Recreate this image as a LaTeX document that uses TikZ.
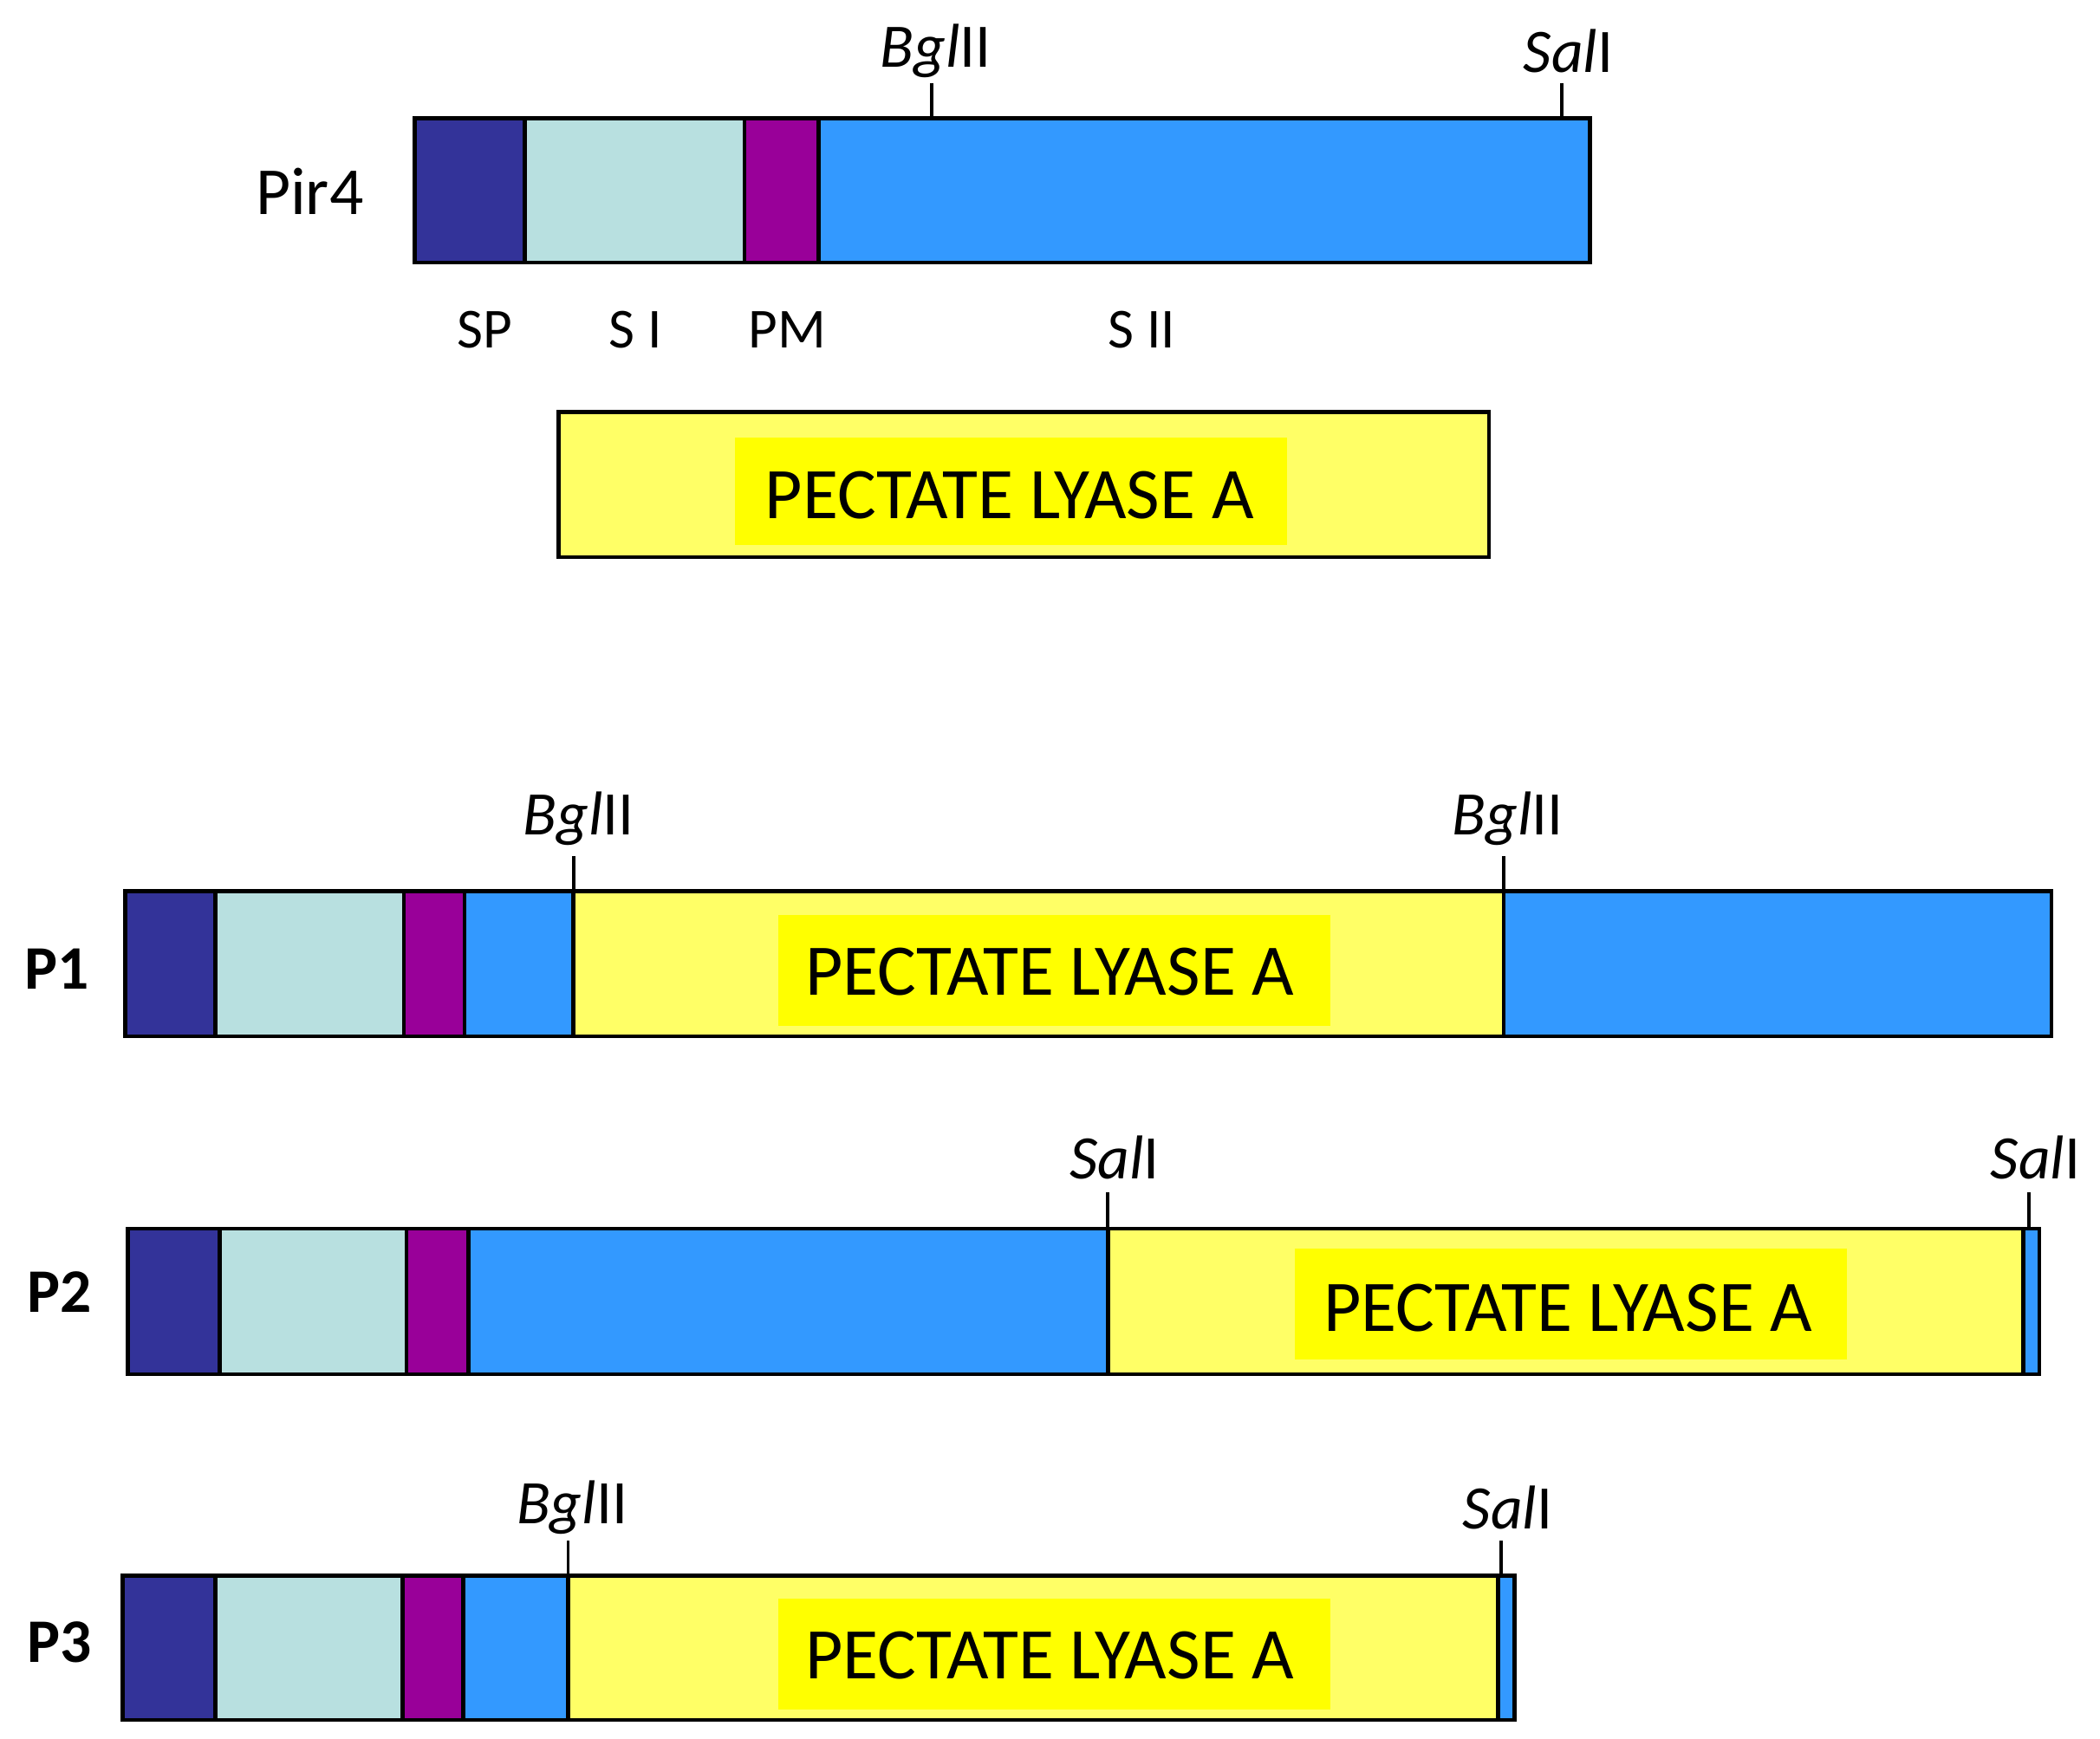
\documentclass[tikz,border=0pt]{standalone}
\usepackage{fontspec}
\setmainfont{Carlito}
\definecolor{cSP}{HTML}{333399}
\definecolor{cSI}{HTML}{B8E0E0}
\definecolor{cPM}{HTML}{990099}
\definecolor{cSII}{HTML}{3399FF}
\definecolor{cY}{HTML}{FFFF66}
\definecolor{cYL}{HTML}{FFFF00}
\tikzset{seg/.style={draw=black,line width=1.5pt},
 pl/.style={fill=cYL,inner sep=0pt,font=\fontsize{27}{30}\selectfont},
 site/.style={font=\fontsize{23}{26}\selectfont},
 lab/.style={font=\fontsize{21}{24}\selectfont},
 tick/.style={line width=1.2pt}}
\newcommand{\site}[5]{% x, ytop, labelx, labely, text
 \coordinate (#5a) at (#1,#2); \coordinate (#5b) at (#1,#2-24);
 \draw[tick] (#5a) -- (#5b);}
\begin{document}
\begin{tikzpicture}[x=0.5pt,y=-0.5pt]
\useasboundingbox (0,0) rectangle (1560,1292);
% Pir4
\draw[seg,fill=cSP] (308,88) rectangle (390,195);
\draw[seg,fill=cSI] (390,88) rectangle (553,195);
\draw[seg,fill=cPM] (553,88) rectangle (608,195);
\draw[seg,fill=cSII] (608,88) rectangle (1181,195);
\node[font=\fontsize{25}{28}\selectfont] (pir) at (230,142) {Pir4};
\node[lab] (sp) at (360,245) {SP};
\node[lab] (si) at (472,245) {S I};
\node[lab] (pm) at (585,245) {PM};
\node[lab] (sii) at (848,245) {S II};
\coordinate (t1a) at (692,88); \coordinate (t1b) at (692,62); \draw[tick] (t1a)--(t1b);
\node[site] (b1) at (695,38) {\textit{Bgl}II};
\coordinate (t2a) at (1160,88); \coordinate (t2b) at (1160,62); \draw[tick] (t2a)--(t2b);
\node[site] (s1) at (1165,38) {\textit{Sal}I};
% PLA
\draw[seg,fill=cY] (415,306) rectangle (1106,414);
\fill[cYL] (546,325) rectangle (956,405);
\node[pl] (pla0) at (750,368) {PECTATE LYASE A};
% P1
\draw[seg,fill=cSP] (93,662) rectangle (160,770);
\draw[seg,fill=cSI] (160,662) rectangle (300,770);
\draw[seg,fill=cPM] (300,662) rectangle (345,770);
\draw[seg,fill=cSII] (345,662) rectangle (426,770);
\draw[seg,fill=cY] (426,662) rectangle (1117,770);
\draw[seg,fill=cSII] (1117,662) rectangle (1524,770);
\fill[cYL] (578,680) rectangle (988,762);
\node[pl] (pla1) at (780,722) {PECTATE LYASE A};
\node[font=\bfseries\fontsize{23}{26}\selectfont] (p1) at (42,720) {P1};
\coordinate (u1a) at (426,662); \coordinate (u1b) at (426,636); \draw[tick] (u1a)--(u1b);
\node[site] (pb1) at (430,608) {\textit{Bgl}II};
\coordinate (u2a) at (1117,662); \coordinate (u2b) at (1117,636); \draw[tick] (u2a)--(u2b);
\node[site] (pb2) at (1120,608) {\textit{Bgl}II};
% P2
\draw[seg,fill=cSP] (95,913) rectangle (163,1021);
\draw[seg,fill=cSI] (163,913) rectangle (302,1021);
\draw[seg,fill=cPM] (302,913) rectangle (348,1021);
\draw[seg,fill=cSII] (348,913) rectangle (823,1021);
\draw[seg,fill=cY] (823,913) rectangle (1503,1021);
\draw[seg,fill=cSII] (1503,913) rectangle (1515,1021);
\fill[cYL] (962,928) rectangle (1372,1010);
\node[pl] (pla2) at (1165,972) {PECTATE LYASE A};
\node[font=\bfseries\fontsize{23}{26}\selectfont] (p2) at (44,960) {P2};
\coordinate (v1a) at (823,913); \coordinate (v1b) at (823,886); \draw[tick] (v1a)--(v1b);
\node[site] (ps1) at (828,860) {\textit{Sal}I};
\coordinate (v2a) at (1507,913); \coordinate (v2b) at (1507,886); \draw[tick] (v2a)--(v2b);
\node[site] (ps2) at (1512,860) {\textit{Sal}I};
% P3
\draw[seg,fill=cSP] (91,1171) rectangle (160,1278);
\draw[seg,fill=cSI] (160,1171) rectangle (299,1278);
\draw[seg,fill=cPM] (299,1171) rectangle (344,1278);
\draw[seg,fill=cSII] (344,1171) rectangle (422,1278);
\draw[seg,fill=cY] (422,1171) rectangle (1113,1278);
\draw[seg,fill=cSII] (1113,1171) rectangle (1125,1278);
\fill[cYL] (578,1188) rectangle (988,1270);
\node[pl] (pla3) at (780,1230) {PECTATE LYASE A};
\node[font=\bfseries\fontsize{23}{26}\selectfont] (p3) at (44,1220) {P3};
\coordinate (w1a) at (422,1171); \coordinate (w1b) at (422,1145); \draw[tick] (w1a)--(w1b);
\node[site] (qb1) at (425,1120) {\textit{Bgl}II};
\coordinate (w2a) at (1115,1171); \coordinate (w2b) at (1115,1145); \draw[tick] (w2a)--(w2b);
\node[site] (qs1) at (1120,1120) {\textit{Sal}I};
\end{tikzpicture}
\end{document}
